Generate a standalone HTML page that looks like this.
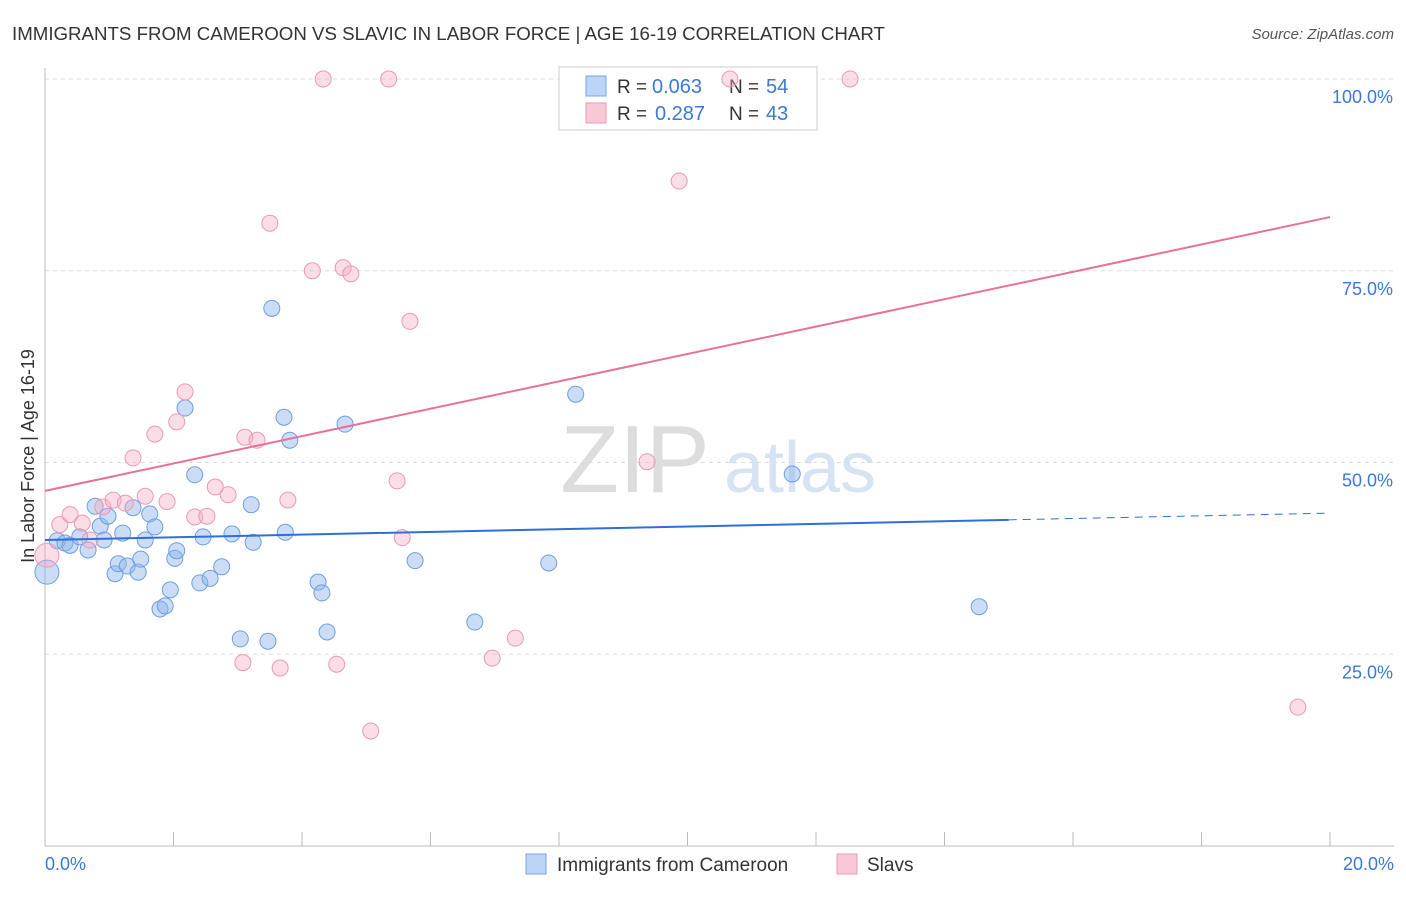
<!DOCTYPE html>
<html><head><meta charset="utf-8"><style>
body{margin:0;background:#fff;font-family:"Liberation Sans",sans-serif;}
svg text{font-family:"Liberation Sans",sans-serif;}
</style></head><body>
<svg id="chart" width="1406" height="892" xmlns="http://www.w3.org/2000/svg">
<text x="12" y="40" font-size="18.7" fill="#333">IMMIGRANTS FROM CAMEROON VS SLAVIC IN LABOR FORCE | AGE 16-19 CORRELATION CHART</text>
<text x="1394" y="39" font-size="15" fill="#555" text-anchor="end" font-style="italic">Source: ZipAtlas.com</text>
<text x="635" y="492" font-size="96" fill="#ddd" font-family="Liberation Serif" text-anchor="middle">ZIP</text>
<text x="800" y="492" font-size="72" fill="#d6e3f5" text-anchor="middle">atlas</text>
<g id="grid"></g><g id="axes"></g>
<g>
<rect x="559" y="67" width="258" height="63" fill="#fff" stroke="#ccc"/>
<rect x="586" y="76" width="20" height="20" fill="#bcd4f5" stroke="#7aa6e6"/>
<rect x="586" y="103" width="20" height="20" fill="#f9c8d6" stroke="#eb9ab2"/>
<text x="617" y="93" font-size="19" fill="#333">R =</text>
<text x="652" y="93" font-size="20" fill="#3b78d8">0.063</text>
<text x="729" y="93" font-size="19" fill="#333">N =</text>
<text x="766" y="93" font-size="20" fill="#3b78d8">54</text>
<text x="617" y="120" font-size="19" fill="#333">R =</text>
<text x="655" y="120" font-size="20" fill="#3b78d8">0.287</text>
<text x="729" y="120" font-size="19" fill="#333">N =</text>
<text x="766" y="120" font-size="20" fill="#3b78d8">43</text>
</g>
<g id="pts"></g><g id="lines"></g>
<text transform="translate(34,456) rotate(-90)" font-size="18" fill="#333" text-anchor="middle">In Labor Force | Age 16-19</text>
<text x="45" y="870" font-size="18" fill="#3b78d8">0.0%</text>
<text x="1394" y="870" font-size="18" fill="#3b78d8" text-anchor="end">20.0%</text>
<g>
<rect x="526" y="854" width="20" height="20" fill="#bcd4f5" stroke="#7aa6e6"/>
<text x="557" y="871" font-size="19" fill="#333">Immigrants from Cameroon</text>
<rect x="837" y="854" width="20" height="20" fill="#f9c8d6" stroke="#eb9ab2"/>
<text x="867" y="871" font-size="19" fill="#333">Slavs</text>
</g>
</svg>
<script>
const yTicks=[25,50,75,100];
const yTickLabels=["25.0%","50.0%","75.0%","100.0%"];
const xTicks=[0,2,4,6,8,10,12,14,16,18,20];
const blueX=[0.03,0.19,0.31,0.39,0.54,0.67,0.78,0.86,0.92,0.98,1.09,1.14,1.21,1.28,1.37,1.45,1.49,1.56,1.63,1.71,1.79,1.87,1.95,2.02,2.05,2.18,2.33,2.41,2.46,2.57,2.75,2.91,3.04,3.24,3.21,3.47,3.53,3.72,3.74,3.81,4.25,4.31,4.39,4.67,5.76,6.69,7.84,8.26,11.63,14.54];
const blueY=[35.7,39.8,39.5,39.2,40.3,38.6,44.3,41.7,39.9,43.0,35.5,36.8,40.8,36.5,44.1,35.7,37.4,39.9,43.3,41.6,30.9,31.3,33.4,37.5,38.5,57.1,48.4,34.3,40.3,34.9,36.4,40.7,27.0,39.6,44.5,26.7,70.1,55.9,40.9,52.9,34.4,33.0,27.9,55.0,37.2,29.2,36.9,58.9,48.5,31.2];
const pinkX=[0.03,0.23,0.39,0.58,0.70,0.90,1.06,1.25,1.37,1.56,1.71,1.90,2.05,2.18,2.33,2.52,2.65,2.85,3.08,3.11,3.30,3.50,3.66,3.78,4.16,4.33,4.54,4.64,4.76,5.07,5.35,5.48,5.56,5.68,6.96,7.32,9.37,9.87,10.66,12.53,19.50];
const pinkY=[37.9,41.9,43.2,42.1,39.9,44.2,45.1,44.7,50.6,45.6,53.7,44.9,55.3,59.2,42.9,43.0,46.8,45.8,23.9,53.3,52.9,81.2,23.2,45.1,75.0,100,23.7,75.4,74.6,15.0,100,47.6,40.2,68.4,24.5,27.1,50.1,86.7,100,100,18.1];
const blueTrend=[39.9,43.4];
const pinkTrend=[46.3,82.0];
const NS="http://www.w3.org/2000/svg";
const X0=45,X1=1330,Y0=846,YTOP=79;
const xs=v=>X0+(v/20)*(X1-X0);
const ys=v=>Y0-(v/100)*(Y0-YTOP);
function mk(tag,attrs,parent){const e=document.createElementNS(NS,tag);for(const k in attrs)e.setAttribute(k,attrs[k]);document.getElementById(parent).appendChild(e);return e;}
yTicks.forEach((t,i)=>{
 const g=mk('line',{x1:X0,x2:1394,y1:ys(t),y2:ys(t),stroke:'#ddd','stroke-dasharray':'4,4'},'grid');
 
 
 const tx=mk('text',{x:1393,y:ys(t)+24,'font-size':18,fill:'#3b78d8','text-anchor':'end'},'grid');
 tx.textContent=yTickLabels[i];
 
 
});
let a=mk('line',{x1:X0,x2:X0,y1:68,y2:Y0,stroke:'#bbb'},'axes');


a=mk('line',{x1:X0,x2:1394,y1:Y0,y2:Y0,stroke:'#bbb'},'axes');


xTicks.forEach(t=>{const l=mk('line',{x1:xs(t),x2:xs(t),y1:832,y2:Y0,stroke:'#bbb'},'axes');
 
 });
blueX.forEach((x,i)=>{const c=mk('circle',{cx:xs(x),cy:ys(blueY[i]),r:i==0?12:8,fill:'rgba(140,180,235,0.45)',stroke:'#6e9fe0','stroke-width':1},'pts');
 
 });
pinkX.forEach((x,i)=>{const c=mk('circle',{cx:xs(x),cy:ys(pinkY[i]),r:i==0?12:8,fill:'rgba(245,170,195,0.4)',stroke:'#eb9ab2','stroke-width':1},'pts');
 
 });
const bAt=x=>blueTrend[0]+(blueTrend[1]-blueTrend[0])*x/20;
let l=mk('line',{x1:xs(0),y1:ys(bAt(0)),x2:xs(15),y2:ys(bAt(15)),stroke:'#2f6fd6','stroke-width':2},'lines');


l=mk('line',{x1:xs(15),y1:ys(bAt(15)),x2:xs(20),y2:ys(bAt(20)),stroke:'#2f6fd6','stroke-width':1,'stroke-dasharray':'8,6'},'lines');


l=mk('line',{x1:xs(0),y1:ys(pinkTrend[0]),x2:xs(20),y2:ys(pinkTrend[1]),stroke:'#e8709a','stroke-width':2},'lines');


</script>
</body></html>
